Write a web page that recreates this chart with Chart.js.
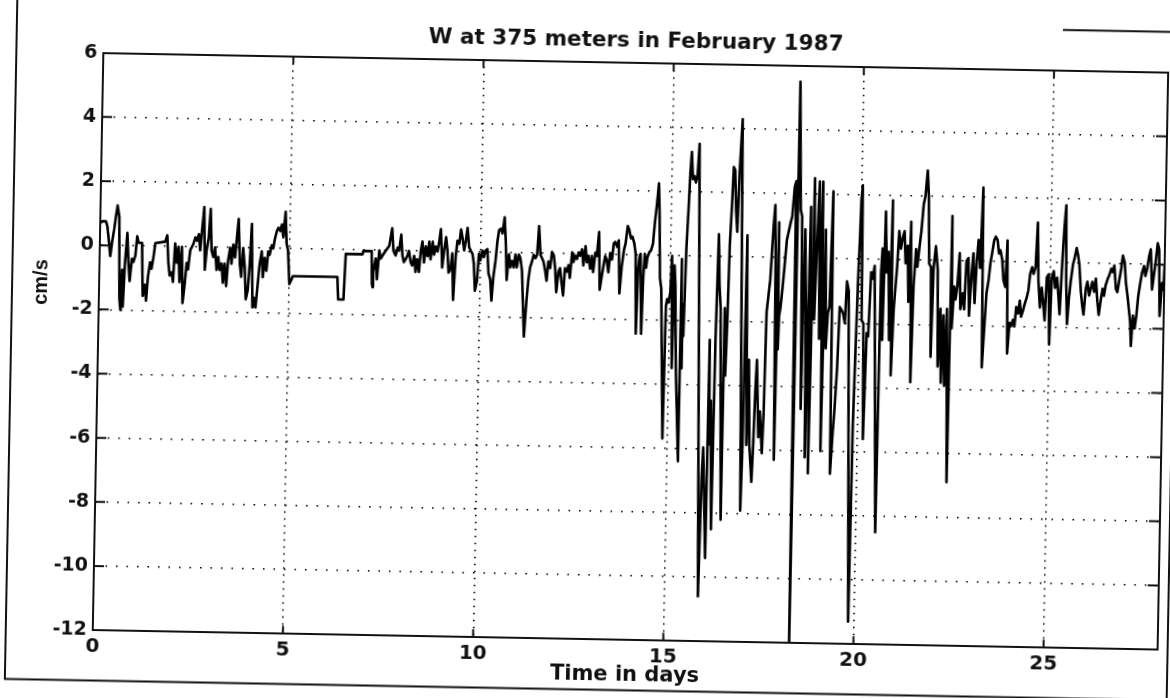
<!DOCTYPE html>
<html>
<head>
<meta charset="utf-8">
<script src="https://cdn.jsdelivr.net/npm/chart.js@4.4.1/dist/chart.umd.min.js"></script>
<style>
html,body{margin:0;padding:0;background:#fff;overflow:hidden;width:1170px;height:698px;}
#wrap{position:absolute;left:-15px;top:-16px;width:1200px;height:730px;transform:rotate(1.05deg);transform-origin:600px 365px;}
canvas{display:block;}
</style>
</head>
<body>
<div id="wrap"><canvas id="c" width="1200" height="730"></canvas></div>
<script>
// ---- data ----
const titleText = 'W at 375 meters in February 1987';
const xLabel = 'Time in days';
const yLabel = 'cm/s';
const xTicks = [0, 5, 10, 15, 20, 25];
const yTicks = [-12, -10, -8, -6, -4, -2, 0, 2, 4, 6];

const days = [
0.00,0.06,0.15,0.19,0.24,0.28,0.32,0.37,0.41,0.45,0.50,0.54,0.57,0.60,0.63,0.67,0.72,0.76,0.80,0.85,
0.89,0.94,0.98,1.02,1.11,1.15,1.20,1.24,1.28,1.33,1.37,1.42,1.46,1.72,1.77,1.81,1.85,1.90,1.94,1.98,
2.03,2.07,2.11,2.16,2.20,2.25,2.29,2.33,2.38,2.42,2.46,2.51,2.55,2.60,2.64,2.68,2.73,2.77,2.81,2.86,
2.90,2.94,2.99,3.03,3.08,3.12,3.16,3.21,3.25,3.29,3.34,3.38,3.43,3.47,3.51,3.56,3.60,3.64,3.69,3.73,
3.77,3.82,3.86,3.91,3.95,3.99,4.04,4.08,4.12,4.17,4.21,4.26,4.30,4.34,4.39,4.43,4.47,4.52,4.56,4.60,
4.65,4.69,4.74,4.78,4.82,4.87,4.91,4.95,5.00,5.04,
5.09,5.60,6.26,6.29,6.43,6.47,6.91,6.93,7.15,7.17,7.19,7.20,7.26,7.30,7.35,7.39,7.44,7.52,7.61,7.68,
7.72,7.78,7.83,7.87,7.92,7.96,8.00,8.05,8.09,8.13,8.18,8.22,8.27,8.31,8.35,8.40,8.44,8.48,8.53,8.57,
8.62,8.66,8.70,8.75,8.79,8.83,8.88,8.92,8.96,9.01,9.05,
9.10,9.14,9.18,9.23,9.27,9.31,9.36,9.40,9.45,9.49,9.53,9.58,9.62,9.66,9.71,9.75,9.80,9.84,9.88,9.93,
9.97,10.01,10.06,10.10,10.14,10.19,10.23,10.28,10.32,10.36,10.41,10.45,10.49,10.54,10.58,10.63,10.67,10.71,10.76,10.80,
10.84,10.89,10.93,10.97,11.02,11.06,11.11,11.15,11.19,11.24,11.28,11.32,11.37,11.41,11.46,11.50,11.54,11.59,11.63,11.67,
11.72,11.76,11.80,11.85,11.89,11.94,11.98,12.02,12.07,12.11,12.15,12.20,12.24,12.29,12.33,12.37,12.42,12.46,12.50,12.55,
12.59,12.63,12.68,12.72,12.77,12.81,12.85,12.90,12.94,12.98,13.03,13.07,13.12,13.16,13.20,13.25,13.29,13.33,13.38,13.42,
13.47,13.51,13.55,13.60,13.64,13.68,13.73,
13.78,13.82,13.87,13.91,13.96,14.00,14.05,14.09,14.13,14.16,14.19,14.22,14.27,14.30,14.33,14.37,14.40,14.45,14.49,14.54,
14.58,14.63,14.67,14.70,14.74,14.78,14.88,14.91,14.94,14.98,15.02,15.05,15.09,15.12,15.15,15.20,15.30,15.31,15.33,15.35,
15.38,15.42,15.46,15.49,15.52,15.56,15.60,15.64,15.68,15.72,15.75,15.89,15.93,15.96,16.06,16.08,16.11,16.14,16.20,16.23,
16.27,16.31,16.35,16.45,16.46,16.50,16.53,16.56,16.60,16.63,16.67,16.71,16.75,16.79,16.84,16.87,16.96,16.99,17.02,17.09,
17.12,17.17,17.24,17.27,17.30,17.33,17.40,17.43,17.50,17.53,17.56,17.64,17.68,17.71,17.74,17.77,17.82,17.85,17.87,17.89,
17.92,17.97,18.06,18.15,18.19,18.24,18.28,18.31,18.34,18.41,
18.45,18.50,18.54,18.59,18.63,18.68,18.72,18.77,18.81,18.86,18.90,18.95,18.99,19.04,19.08,19.13,19.17,19.21,19.26,19.30,
19.35,19.39,19.44,19.48,19.53,19.57,19.62,19.66,19.71,19.85,19.88,19.92,19.95,19.98,20.00,20.03,20.06,20.11,20.15,20.20,
20.24,20.29,20.33,20.38,20.52,20.55,20.58,20.61,20.65,20.70,20.74,20.79,20.83,20.85,20.90,20.97,21.01,21.06,21.10,21.15,
21.19,21.24,21.28,21.32,21.37,21.41,21.46,21.50,21.55,21.59,21.64,21.68,21.73,21.77,21.81,21.86,21.89,21.93,21.98,22.04,
22.08,22.13,22.17,22.21,22.26,22.30,22.37,22.40,22.43,22.48,22.52,22.56,22.61,22.65,22.71,22.75,22.79,22.84,22.88,22.93,
22.97,23.02,23.06,23.10,23.15,23.20,23.24,
23.33,23.38,23.42,23.46,23.51,23.55,23.60,23.64,23.68,23.73,23.77,23.82,23.86,23.90,23.95,23.99,24.04,24.08,24.12,24.17,
24.21,24.25,24.30,24.34,24.39,24.43,24.47,24.52,24.56,24.61,24.65,24.69,24.74,24.78,24.82,24.87,24.91,24.96,25.00,25.04,
25.09,25.13,25.18,25.22,25.26,25.31,25.35,25.39,25.42,25.46,25.50,25.54,25.59,25.63,25.68,25.72,25.76,25.81,25.85,25.89,
25.94,25.98,26.03,26.07,26.11,26.16,26.20,26.25,26.29,26.33,26.38,26.42,26.46,26.51,26.55,26.60,26.64,26.68,26.73,26.77,
26.82,26.86,26.90,26.95,26.99,27.04,27.08,27.12,27.15,27.19,27.24,27.28,27.32,27.37,27.41,27.46,27.50,27.54,27.59,27.63,
27.68,27.72,27.76,27.81,27.85,27.89,27.94,27.98,28.00
];

const w = [
0.7,0.75,0.75,0.6,0.1,-0.33,0.1,0.5,0.9,1.25,0.9,-1.65,-2.0,-0.75,-1.9,-0.55,0.4,-0.5,-1.1,-0.4,
-0.5,-0.3,0.3,0.1,0.1,-1.55,-1.2,-1.7,-0.95,-0.5,-0.7,-0.3,0.1,0.15,0.35,-0.5,-0.9,-0.8,-1.1,0.1,
-0.5,0.0,-1.1,0.0,-1.75,-1.15,-0.5,-0.7,-0.1,0.0,0.1,0.3,0.2,0.4,-0.1,0.5,1.25,-0.7,-0.1,0.3,
1.2,-0.1,-0.3,0.0,-0.7,-0.3,-0.7,-0.5,-1.1,-0.5,-1.2,-0.4,0.0,-0.5,0.1,-0.3,0.3,0.9,-0.5,-0.9,
0.0,-0.6,-1.6,-1.3,-0.5,0.75,-1.85,-1.55,-1.85,-1.1,-0.5,-0.1,-0.9,-0.3,-0.7,-0.1,-0.2,0.1,0.0,0.3,
0.55,0.65,0.55,0.75,0.35,1.15,0.15,-0.05,-1.1,-1.0,
-0.85,-0.85,-0.85,-1.55,-1.55,-0.13,-0.13,-0.03,-0.03,-1.05,-1.15,-0.65,-0.25,-0.9,0.0,-0.25,-0.15,0.0,0.15,0.7,
0.0,-0.15,0.1,0.0,0.5,-0.15,-0.35,-0.25,-0.15,0.0,-0.35,-0.45,-0.15,-0.65,-0.25,-0.65,0.0,0.3,-0.35,0.15,
-0.15,0.3,-0.25,0.3,-0.1,0.15,0.0,0.3,0.7,-0.5,0.0,
0.45,0.05,-0.65,-0.55,-0.05,-1.5,-0.15,0.35,0.25,0.7,0.45,0.05,0.35,0.75,0.15,0.05,-0.05,-0.35,-1.2,-0.9,
-0.05,-0.25,0.05,-0.15,0.05,0.1,-0.65,-0.85,-1.5,-0.75,-0.25,0.35,0.7,0.75,0.6,1.1,0.35,-0.85,-0.05,-0.45,
-0.25,-0.45,-0.05,-0.45,-0.05,-0.15,-0.55,-1.6,-2.6,-1.5,-0.85,-0.45,-0.25,-0.05,-0.15,-0.05,0.85,-0.05,-0.15,-0.25,
-0.55,-0.85,-0.25,-0.45,0.05,-0.05,-0.45,-1.2,-0.55,-0.45,-0.85,-1.3,-0.45,-0.55,-0.35,-0.75,0.05,-0.25,-0.05,-0.15,
0.05,-0.05,0.15,-0.35,0.25,-0.25,-0.05,-0.45,-0.05,-0.55,0.05,-0.05,0.7,-1.1,-0.75,-0.35,-0.05,-0.15,-0.55,0.05,
-0.15,0.35,0.4,0.25,0.45,-1.2,-0.35,
0.15,0.36,0.9,0.79,0.52,0.57,0.36,0.04,-2.45,-0.5,-0.07,0.04,-2.45,-0.7,0.04,-0.39,-0.07,0.1,0.15,0.36,
1.0,1.64,2.25,1.3,-0.7,-1.03,-5.7,-1.57,-1.35,-1.46,-1.14,0.0,-3.5,-0.3,-0.92,-3.5,-6.4,-0.1,-3.5,-1.5,
-2.5,0.2,1.5,2.6,3.25,2.4,2.5,2.3,2.5,3.5,1.0,-10.6,-6.9,-5.96,-9.4,-2.6,-5.85,-4.5,-8.5,-2.6,
0.7,-0.9,-1.6,-8.2,-1.6,-3.7,-2.1,0.36,1.64,2.8,2.7,1.43,0.79,2.8,4.3,1.2,-7.9,-5.85,0.68,-5.85,
-3.2,-5.85,-7.0,-5.85,-4.2,-3.2,-5.6,-4.8,-6.1,-4.8,-1.7,-0.7,0.36,1.1,1.64,0.15,-6.3,1.1,-2.85,-1.8,
-1.57,-0.9,0.57,1.1,1.3,2.2,2.4,-12.2,5.5,1.5,
1.3,-4.7,0.9,-1.5,-6.2,1.6,-6.7,2.5,-1.9,0.67,2.4,-2.5,2.4,-6.0,0.9,-2.8,-1.7,-1.5,2.1,-6.7,
-5.5,-4.7,-3.4,-1.5,-1.6,-1.7,-2.0,-0.7,-1.0,-11.3,-5.2,-2.5,-0.6,0.67,1.85,2.3,-1.9,-2.0,-5.6,-2.3,
-2.4,-0.4,-0.6,-0.2,-8.5,-0.4,0.35,-2.5,1.5,-0.4,0.25,-2.5,1.85,-3.6,-1.5,-0.2,0.9,0.35,0.67,0.9,
-0.1,0.45,-1.3,1.2,-3.8,-0.8,0.35,-0.2,0.45,0.9,1.75,2.0,2.8,2.0,-0.1,-0.2,-3.0,-0.2,0.45,-0.3,
-3.3,-1.5,-3.8,-1.7,-3.9,-1.5,-6.9,1.4,-2.1,-0.8,-1.2,-0.8,0.25,-1.5,-1.0,-1.5,0.0,0.1,-1.7,-0.4,
0.25,-1.3,0.0,0.67,-0.2,2.3,-3.3,
-1.0,-0.57,-0.05,0.26,0.67,0.78,0.67,0.26,0.36,0.05,-0.57,-0.78,0.67,-2.85,-1.9,-2.0,-1.8,-2.0,-1.4,-1.6,
-1.2,-1.7,-1.5,-1.3,-1.1,-0.88,-0.36,-0.15,-0.36,-0.15,1.24,-0.57,-1.4,-0.78,-1.2,-1.8,-0.46,-0.36,-2.55,-0.46,
-0.26,-0.78,-0.46,-1.0,-1.6,0.05,1.1,1.8,-0.57,-1.9,-1.1,-0.57,-0.05,0.15,0.47,0.26,-0.05,-0.88,-1.3,-1.6,
-0.78,-0.57,-1.0,-0.78,-0.57,-0.88,-0.47,-1.2,-1.6,-1.2,-0.78,-1.0,-0.67,-0.47,-0.36,-0.15,-0.26,-0.05,-0.78,-0.88,
-0.47,-0.15,0.26,0.05,-0.57,-1.0,-1.4,-1.8,-2.55,-1.6,-2.0,-1.6,-1.0,-0.57,-0.26,-0.05,-0.36,-0.15,0.26,0.47,
-0.78,-0.36,0.05,0.67,0.47,-1.6,-0.57,-0.78,-0.05
];

const points = days.map((d, i) => ({x: d, y: w[i]}));

const INK = '#111';
const tickFontX = {family: 'DejaVu Sans', size: 20, weight: 'bold'};
const tickFontY = {family: 'DejaVu Sans', size: 19, weight: 'bold'};

const decorPlugin = {
  id: 'decor',
  beforeDraw(chart) {
    const c = chart.ctx;
    c.save();
    c.fillStyle = '#fff';
    c.fillRect(0, 0, chart.width, chart.height);
    c.restore();
  },
  afterDraw(chart) {
    const c = chart.ctx, a = chart.chartArea;
    const xs = chart.scales.x, ys = chart.scales.y;
    c.save();
    c.strokeStyle = INK;
    c.lineWidth = 2;
    c.beginPath();
    xs.ticks.forEach(t => {
      const p = xs.getPixelForValue(t.value);
      if (p <= a.left + 1) return;
      c.moveTo(p, a.bottom); c.lineTo(p, a.bottom - 8);
      c.moveTo(p, a.top); c.lineTo(p, a.top + 8);
    });
    ys.ticks.forEach(t => {
      const p = ys.getPixelForValue(t.value);
      if (p <= a.top + 1 || p >= a.bottom - 1) return;
      c.moveTo(a.left, p); c.lineTo(a.left + 10, p);
      c.moveTo(a.right, p); c.lineTo(a.right - 11, p);
    });
    c.stroke();
    // outer page frame of the scan
    c.lineWidth = 2;
    c.beginPath();
    c.moveTo(26, 0); c.lineTo(26, 705.6); c.lineTo(1200, 705.6);
    c.moveTo(1188, 0); c.lineTo(1188, 705.6);
    c.moveTo(1072, 37.3); c.lineTo(1200, 37.3);
    c.stroke();
    // y axis label
    c.translate(55, 308);
    c.rotate(-Math.PI / 2);
    c.font = 'bold 20px "Liberation Sans"';
    c.fillStyle = INK;
    c.textAlign = 'center';
    c.textBaseline = 'middle';
    c.fillText(yLabel, 0, 0);
    c.restore();
  }
};

new Chart(document.getElementById('c'), {
  type: 'line',
  data: {
    datasets: [{
      data: points,
      xAxisID: 'x',
      yAxisID: 'y',
      borderColor: '#000',
      borderWidth: 2.6,
      borderJoinStyle: 'round',
      pointRadius: 0,
      tension: 0,
      fill: false
    }]
  },
  options: {
    responsive: false,
    animation: false,
    devicePixelRatio: 1,
    layout: {padding: 0},
    plugins: {legend: {display: false}, tooltip: {enabled: false}, title: {display: false}},
    scales: {
      x: {
        type: 'linear', position: 'bottom', min: 0, max: 28,
        afterBuildTicks: s => { s.ticks = xTicks.map(v => ({value: v})); },
        afterFit: s => { s.height = 74.8; },
        ticks: {autoSkip: false, maxRotation: 0, padding: 5, font: tickFontX, color: INK, callback: v => String(v)},
        grid: {drawTicks: false, color: '#000', lineWidth: 1.6},
        border: {display: true, color: INK, width: 2, dash: [1.6, 5.4]},
        title: {display: true, text: xLabel, color: INK, font: {family: 'DejaVu Sans', size: 21, weight: 'bold'}, padding: {top: 0, bottom: 26.7}}
      },
      x2: {
        type: 'linear', position: 'top', min: 0, max: 28,
        afterBuildTicks: s => { s.ticks = xTicks.map(v => ({value: v})); },
        afterFit: s => { s.height = 77.7; },
        ticks: {display: false},
        grid: {display: false, drawOnChartArea: false, drawTicks: false},
        border: {display: true, color: INK, width: 2},
        title: {display: true, text: titleText, color: INK, font: {family: 'DejaVu Sans', size: 21.5, weight: 'bold'}, padding: {top: 43.5, bottom: 0}}
      },
      y: {
        type: 'linear', position: 'left', min: -12, max: 6,
        afterBuildTicks: s => { s.ticks = yTicks.map(v => ({value: v})); },
        afterFit: s => { s.width = 113; },
        ticks: {autoSkip: false, padding: 6, font: tickFontY, color: INK, callback: v => String(v)},
        grid: {drawTicks: false, color: '#000', lineWidth: 1.6},
        border: {display: true, color: INK, width: 2, dash: [1.6, 8.9]}
      },
      y2: {
        type: 'linear', position: 'right', min: -12, max: 6,
        afterBuildTicks: s => { s.ticks = yTicks.map(v => ({value: v})); },
        afterFit: s => { s.width = 22; },
        ticks: {display: false},
        grid: {display: false, drawOnChartArea: false, drawTicks: false},
        border: {display: true, color: INK, width: 2}
      }
    }
  },
  plugins: [decorPlugin]
});
</script>
</body>
</html>
